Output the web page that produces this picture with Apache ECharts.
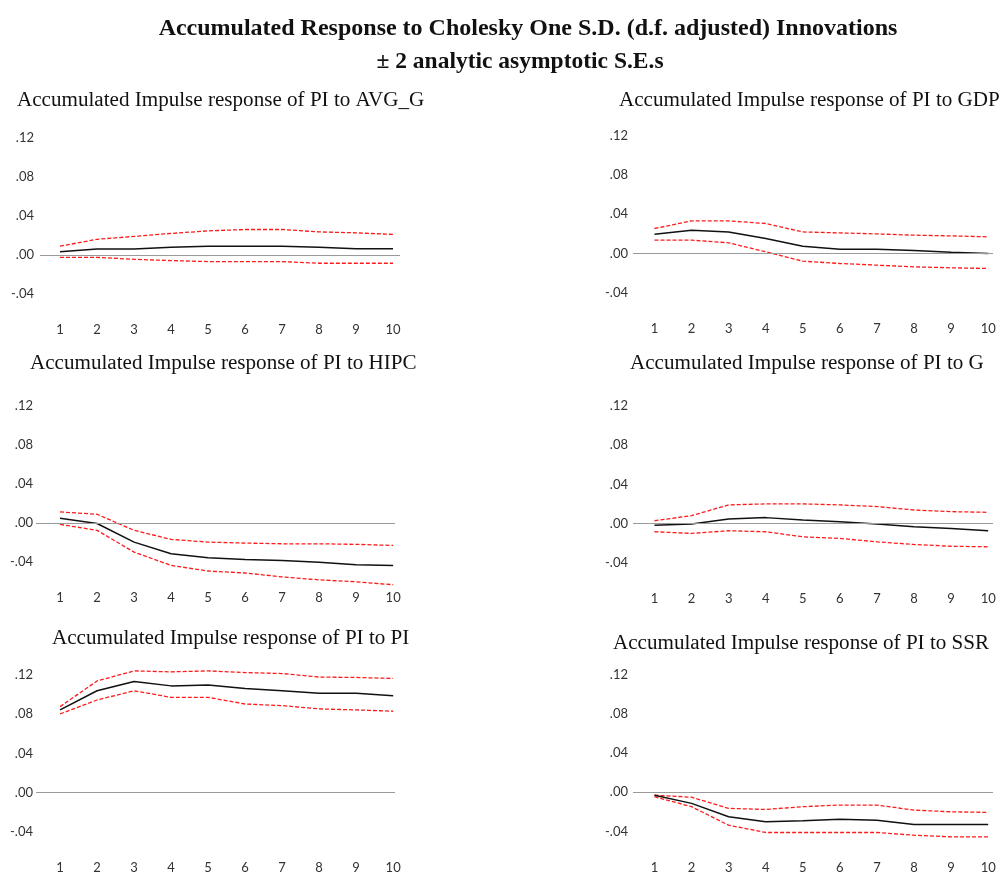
<!DOCTYPE html>
<html>
<head>
<meta charset="utf-8">
<script src="https://cdn.jsdelivr.net/npm/echarts@6/dist/echarts.min.js"></script>
<style>
  html, body { margin: 0; padding: 0; background: #ffffff; }
  #chart { width: 1003px; height: 876px; }
</style>
</head>
<body>
<div id="chart"></div>
<script>
// Horizon (periods after the shock) and y tick values
const steps = [1, 2, 3, 4, 5, 6, 7, 8, 9, 10];
const yTicks = [-0.04, 0, 0.04, 0.08, 0.12];

// Accumulated response of PI to AVG_G, with +/- 2 S.E. bands
const avgGResp  = [0.0033, 0.0060, 0.0060, 0.0078, 0.0090, 0.0090, 0.0090, 0.0078, 0.0065, 0.0065];
const avgGUpper = [0.0090, 0.0160, 0.0190, 0.0220, 0.0246, 0.0260, 0.0260, 0.0236, 0.0226, 0.0210];
const avgGLower = [-0.0024, -0.0024, -0.0044, -0.0057, -0.0067, -0.0067, -0.0067, -0.0084, -0.0084, -0.0084];

// Accumulated response of PI to GDP
const gdpResp  = [0.0197, 0.0238, 0.0220, 0.0153, 0.0075, 0.0044, 0.0044, 0.0030, 0.0014, 0.0000];
const gdpUpper = [0.0255, 0.0333, 0.0333, 0.0306, 0.0220, 0.0210, 0.0200, 0.0187, 0.0180, 0.0170];
const gdpLower = [0.0136, 0.0136, 0.0109, 0.0017, -0.0078, -0.0102, -0.0119, -0.0136, -0.0146, -0.0153];

// Accumulated response of PI to HIPC
const hipcResp  = [0.0048, -0.0005, -0.0195, -0.0314, -0.0355, -0.0372, -0.0382, -0.0400, -0.0427, -0.0433];
const hipcUpper = [0.0113, 0.0089, -0.0075, -0.0167, -0.0195, -0.0205, -0.0212, -0.0212, -0.0218, -0.0229];
const hipcLower = [-0.0014, -0.0075, -0.0297, -0.0433, -0.0490, -0.0510, -0.0550, -0.0580, -0.0600, -0.0630];

// Accumulated response of PI to G
const gResp  = [-0.0017, -0.0003, 0.0048, 0.0062, 0.0038, 0.0020, -0.0003, -0.0031, -0.0048, -0.0072];
const gUpper = [0.0030, 0.0082, 0.0192, 0.0202, 0.0202, 0.0192, 0.0175, 0.0140, 0.0123, 0.0116];
const gLower = [-0.0082, -0.0099, -0.0072, -0.0082, -0.0134, -0.0150, -0.0185, -0.0212, -0.0230, -0.0236];

// Accumulated response of PI to PI
const piResp  = [0.0845, 0.1040, 0.1135, 0.1090, 0.1100, 0.1064, 0.1040, 0.1014, 0.1014, 0.0990];
const piUpper = [0.0878, 0.1140, 0.1243, 0.1233, 0.1243, 0.1226, 0.1216, 0.1180, 0.1176, 0.1166];
const piLower = [0.0804, 0.0946, 0.1040, 0.0973, 0.0973, 0.0905, 0.0889, 0.0855, 0.0845, 0.0831];

// Accumulated response of PI to SSR
const ssrResp  = [-0.0030, -0.0113, -0.0250, -0.0300, -0.0290, -0.0274, -0.0284, -0.0329, -0.0329, -0.0329];
const ssrUpper = [-0.0030, -0.0050, -0.0164, -0.0175, -0.0147, -0.0130, -0.0130, -0.0182, -0.0199, -0.0205];
const ssrLower = [-0.0045, -0.0147, -0.0336, -0.0410, -0.0410, -0.0410, -0.0410, -0.0438, -0.0455, -0.0455];

const titleMain = 'Accumulated Response to Cholesky One S.D. (d.f. adjusted) Innovations';
const titleSub = '\u00B1 2 analytic asymptotic S.E.s';
const impulseNames = ['AVG_G', 'GDP', 'HIPC', 'G', 'PI', 'SSR'];

const panelData = [
  [avgGResp, avgGUpper, avgGLower],
  [gdpResp, gdpUpper, gdpLower],
  [hipcResp, hipcUpper, hipcLower],
  [gResp, gUpper, gLower],
  [piResp, piUpper, piLower],
  [ssrResp, ssrUpper, ssrLower]
];

// Placement of each small plot: grid box, zero-line height, x range, title anchor
const PX_PER_UNIT = 980;   // vertical pixels per unit of response
const Y_MIN = -0.065, Y_MAX = 0.13;
const layout = [
  { left: 40,  right: 400, zeroY: 255.0, xMin: 0.46, xMax: 10.19, yLabMargin: 6, titleX: 17,  titleY: 100 },
  { left: 633, right: 993, zeroY: 253.5, xMin: 0.42, xMax: 10.13, yLabMargin: 5, titleX: 619, titleY: 100 },
  { left: 36,  right: 395, zeroY: 523.0, xMin: 0.35, xMax: 10.05, yLabMargin: 3, titleX: 30,  titleY: 363 },
  { left: 633, right: 993, zeroY: 523.7, xMin: 0.42, xMax: 10.13, yLabMargin: 5, titleX: 630, titleY: 363 },
  { left: 36,  right: 395, zeroY: 792.7, xMin: 0.35, xMax: 10.05, yLabMargin: 3, titleX: 52,  titleY: 638 },
  { left: 633, right: 993, zeroY: 792.3, xMin: 0.42, xMax: 10.13, yLabMargin: 5, titleX: 613, titleY: 643 }
];

const fmtTick = v => {
  if (Math.abs(v) < 1e-9) return '.00';
  return (v < 0 ? '-' : '') + Math.abs(v).toFixed(2).replace(/^0/, '');
};

const axisFont = { fontFamily: 'Lato', fontSize: 13, color: '#333333' };
const serif = '"Liberation Serif", "Times New Roman", serif';

const grids = [], xAxes = [], yAxes = [], series = [], texts = [];

layout.forEach((L, i) => {
  grids.push({
    left: L.left,
    top: L.zeroY - Y_MAX * PX_PER_UNIT,
    width: L.right - L.left,
    height: (Y_MAX - Y_MIN) * PX_PER_UNIT
  });
  xAxes.push({
    type: 'value', gridIndex: i, min: L.xMin, max: L.xMax,
    axisLine: { show: false }, axisTick: { show: false }, splitLine: { show: false },
    axisLabel: Object.assign({ customValues: steps, margin: 5, formatter: v => String(v) }, axisFont)
  });
  yAxes.push({
    type: 'value', gridIndex: i, min: Y_MIN, max: Y_MAX,
    axisLine: { show: false }, axisTick: { show: false }, splitLine: { show: false },
    axisLabel: Object.assign({ customValues: yTicks, margin: L.yLabMargin, formatter: fmtTick }, axisFont)
  });

  const [resp, upper, lower] = panelData[i];
  const pts = arr => steps.map((s, k) => [s, arr[k]]);
  const band = arr => ({
    type: 'line', xAxisIndex: i, yAxisIndex: i, data: pts(arr),
    symbol: 'none', silent: true, animation: false,
    lineStyle: { color: '#ff1a1a', width: 1.3, type: [4, 2] }
  });
  series.push(band(upper));
  series.push(band(lower));
  series.push({
    type: 'line', xAxisIndex: i, yAxisIndex: i, data: pts(resp),
    symbol: 'none', silent: true, animation: false, z: 3,
    lineStyle: { color: '#111111', width: 1.5 },
    markLine: {
      silent: true, symbol: 'none', animation: false, label: { show: false },
      lineStyle: { color: '#9a9a9a', width: 1.2, type: 'solid' },
      data: [{ yAxis: 0 }]
    }
  });

  texts.push({
    type: 'text', x: L.titleX, y: L.titleY,
    style: { text: 'Accumulated Impulse response of PI to ' + impulseNames[i],
             font: '21.1px ' + serif, fill: '#111111',
             textAlign: 'left', textVerticalAlign: 'middle' }
  });
});

texts.push({
  type: 'text', x: 528, y: 29,
  style: { text: titleMain, font: 'bold 24px ' + serif, fill: '#111111',
           textAlign: 'center', textVerticalAlign: 'middle' }
});
texts.push({
  type: 'text', x: 520, y: 62,
  style: { text: titleSub, font: 'bold 23.5px ' + serif, fill: '#111111',
           textAlign: 'center', textVerticalAlign: 'middle' }
});

const chart = echarts.init(document.getElementById('chart'), null, { renderer: 'canvas' });
chart.setOption({
  backgroundColor: '#ffffff',
  animation: false,
  grid: grids,
  xAxis: xAxes,
  yAxis: yAxes,
  series: series,
  graphic: texts
});
</script>
</body>
</html>
